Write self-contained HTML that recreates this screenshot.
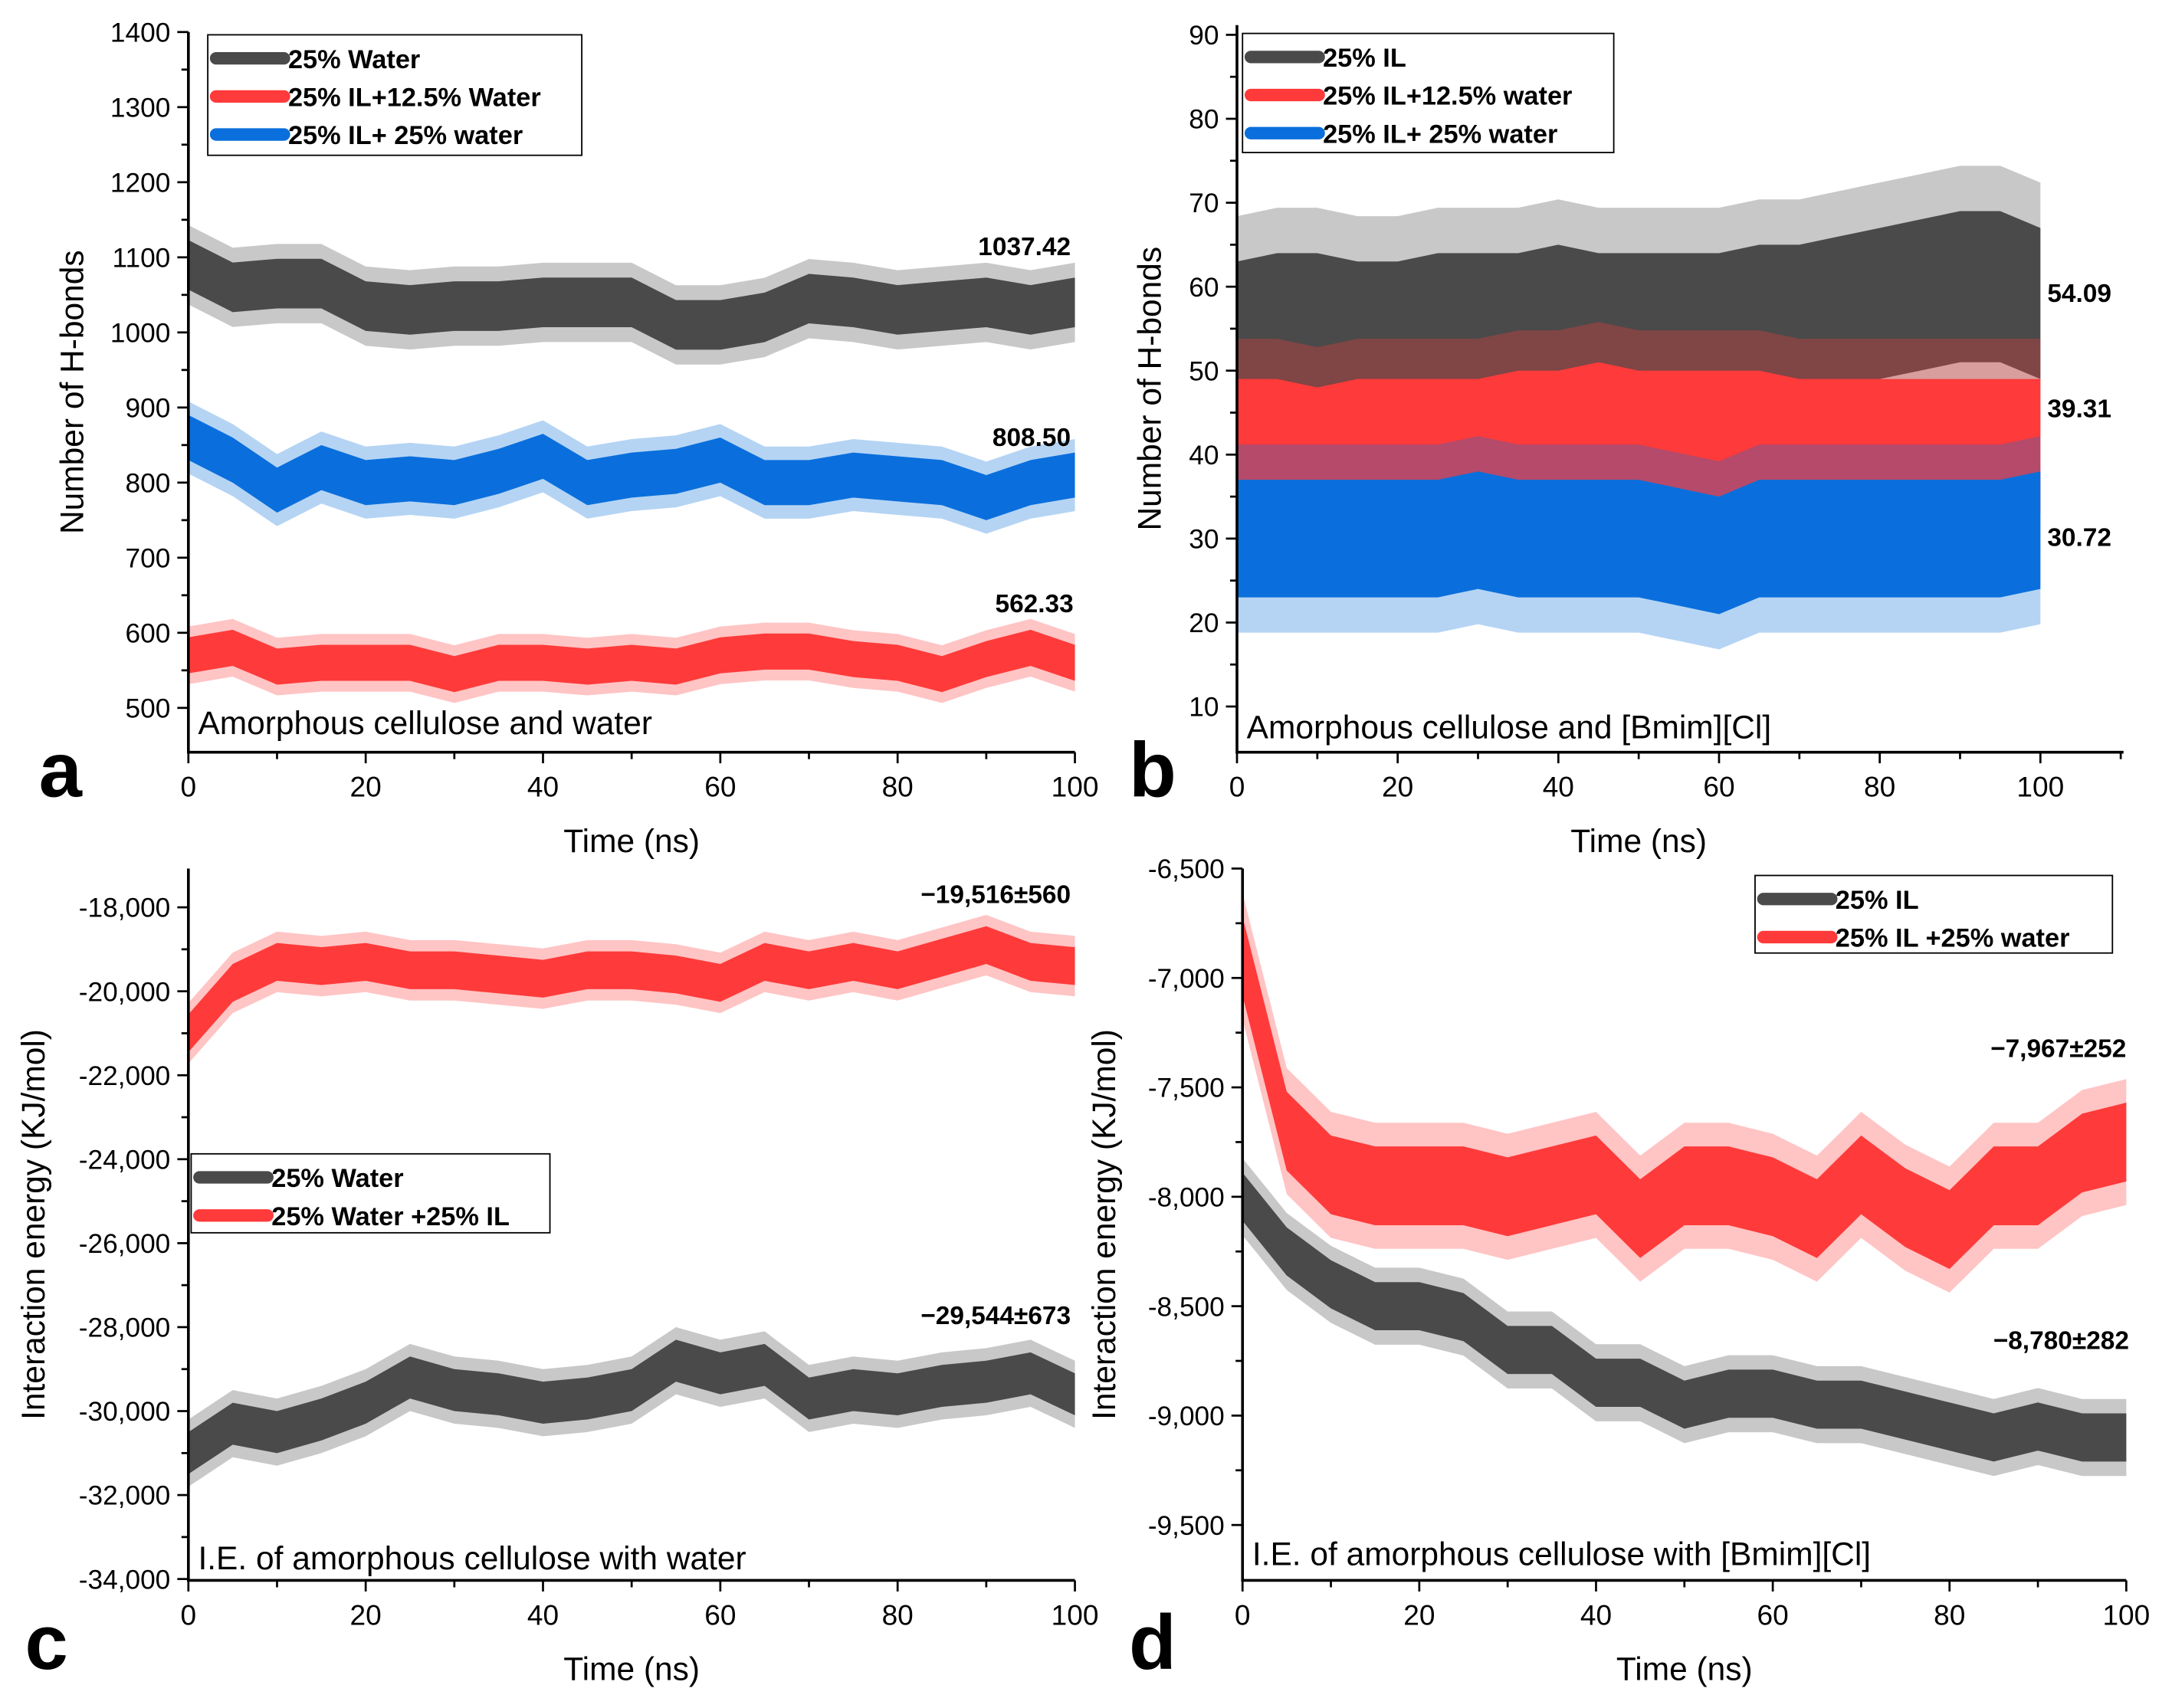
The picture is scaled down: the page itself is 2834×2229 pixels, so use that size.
<!DOCTYPE html>
<html><head><meta charset="utf-8"><style>html,body{margin:0;padding:0;background:#fff}svg{display:block}</style></head>
<body>
<svg id="fig" xmlns="http://www.w3.org/2000/svg" width="2834" height="2229" viewBox="0 0 1568 1233" font-family="Liberation Sans, Arial, sans-serif"></svg>
<script>
const timeNs=[0,5,10,15,20,25,30,35,40,45,50,55,60,65,70,75,80,85,90,95,100];
// panel a
const aWaterMid=[1090,1060,1065,1065,1035,1030,1035,1035,1040,1040,1040,1010,1010,1020,1045,1040,1030,1035,1040,1030,1040];
const aIL25Mid=[860,830,790,820,800,805,800,815,835,800,810,815,830,800,800,810,805,800,780,800,810];
const aIL125Mid=[570,580,555,560,560,560,545,560,560,555,560,555,570,575,575,565,560,545,565,580,560];
// panel b
const bILMid=[54,55,55,54,54,55,55,55,56,55,55,55,55,56,56,57,58,59,60,60,58];
const bIL125Mid=[41,41,40,41,41,41,41,42,42,43,42,42,42,42,41,41,41,41,41,41,41];
const bIL25Mid=[30,30,30,30,30,30,31,30,30,30,30,29,28,30,30,30,30,30,30,30,31];
// panel c
const cMixMid=[-21000,-19800,-19300,-19400,-19300,-19500,-19500,-19600,-19700,-19500,-19500,-19600,-19800,-19300,-19500,-19300,-19500,-19200,-18900,-19300,-19400];
const cWaterMid=[-31000,-30300,-30500,-30200,-29800,-29200,-29500,-29600,-29800,-29700,-29500,-28800,-29100,-28900,-29700,-29500,-29600,-29400,-29300,-29100,-29600];
// panel d
const dMixMid=[-6900,-7700,-7900,-7950,-7950,-7950,-8000,-7950,-7900,-8100,-7950,-7950,-8000,-8100,-7900,-8050,-8150,-7950,-7950,-7800,-7750];
const dILMid=[-8000,-8250,-8400,-8500,-8500,-8550,-8700,-8700,-8850,-8850,-8950,-8900,-8900,-8950,-8950,-9000,-9050,-9100,-9050,-9100,-9100];
const aSpread=[33,30,24], bSpread=[9,8,7], cSpread=[450,500], dSpread=[180,110];

const NS="http://www.w3.org/2000/svg", svg=document.getElementById('fig');
function el(tag,attrs,parent,text){const e=document.createElementNS(NS,tag);for(const k in attrs)e.setAttribute(k,attrs[k]);if(text!==undefined)e.textContent=text;(parent||svg).appendChild(e);return e;}
const GREY='#4a4a4a',RED='#ff3a3a',BLUE='#0a6fdc';

function panel(p){
  const g=el('g',{});
  
  
  const X=v=>p.x0+(v-0)/100*(p.x100-p.x0);
  const Y=v=>p.yA+(v-p.vA)/(p.vB-p.vA)*(p.yB-p.yA);
  p.series.forEach(s=>{
    [[1.6,0.3],[1,1]].forEach(([k,op])=>{
      let pts=[];
      for(let i=0;i<timeNs.length;i++)pts.push(X(timeNs[i])+','+Y(s.mid[i]+s.sp*k));
      for(let i=timeNs.length-1;i>=0;i--)pts.push(X(timeNs[i])+','+Y(s.mid[i]-s.sp*k));
      const poly=el('polygon',{points:pts.join(' '),fill:s.color,'fill-opacity':op,stroke:'none'},g);
      
      
    });
  });
  const ax=el('path',{d:`M${p.x0},${p.top} V${p.bottom} H${p.xEnd}`,stroke:'#000','stroke-width':2,fill:'none'},g);
  
  
  for(let v=0;v<=p.xMax;v+=10){const x=X(v);const major=v%20==0;
    el('line',{x1:x,x2:x,y1:p.bottom,y2:p.bottom+(major?8:5),stroke:'#000','stroke-width':1.5},g);
    if(major&&v<=100){const t=el('text',{x:x,y:p.bottom+32,'font-size':20.5,'text-anchor':'middle'},g,v);
      }}
  p.yticks.forEach(v=>{const y=Y(v);el('line',{x1:p.x0-8,x2:p.x0,y1:y,y2:y,stroke:'#000','stroke-width':1.5},g);
    const t=el('text',{x:p.x0-13,y:y+7,'font-size':19.5,'text-anchor':'end'},g,p.fmt(v));
    
    const ym=Y(v+p.ystep/2);if(ym>p.top&&ym<p.bottom)el('line',{x1:p.x0-5,x2:p.x0,y1:ym,y2:ym,stroke:'#000','stroke-width':1.5},g);});
  const xt=el('text',{x:(p.x0+p.x100)/2,y:p.bottom+72,'font-size':23.5,'text-anchor':'middle'},g,'Time (ns)');
  
  const yt=el('text',{x:p.ylx,y:(p.top+p.bottom)/2,'font-size':23.5,'text-anchor':'middle',transform:`rotate(-90 ${p.ylx} ${(p.top+p.bottom)/2})`},g,p.ylabel);
  
  const letter=el('text',{x:p.lx,y:p.ly,'font-size':56,'font-weight':'bold'},g,p.letter);
  
  const cap=el('text',{x:p.x0+7,y:p.capY,'font-size':23.5},g,p.caption);
  
  p.notes.forEach(n=>{const t=el('text',{x:n[0],y:n[1],'font-size':18.5,'font-weight':'bold','text-anchor':n[3]||'end'},g,n[2]);
    });
  const L=p.legend;const lg=el('g',{},g);
  
  el('rect',{x:L.x,y:L.y,width:L.w,height:L.h,fill:'#fff',stroke:'#000','stroke-width':1},lg);
  L.items.forEach((it,i)=>{const y=L.y+17+i*27.5;
    el('line',{x1:L.x+6,x2:L.x+55,y1:y,y2:y,stroke:it[1],'stroke-width':9,'stroke-linecap':'round'},lg);
    const t=el('text',{x:L.x+58,y:y+7,'font-size':19,'font-weight':'bold'},lg,it[0]);
    });
}

const intf=v=>v.toString();
const commaf=v=>(v<0?'-':'')+Math.abs(v).toLocaleString('en-US');

panel({name:'panel-a',x0:136,x100:776,xEnd:776,xMax:100,top:23,bottom:543,vA:1400,yA:23,vB:500,yB:511,
 yticks:[500,600,700,800,900,1000,1100,1200,1300,1400],ystep:100,fmt:intf,ylx:60,ylabel:'Number of H-bonds',
 letter:'a',lx:28,ly:575,caption:'Amorphous cellulose and water',capY:530,
 series:[{id:'series-25-water',mid:aWaterMid,sp:aSpread[0],color:GREY},{id:'series-25il-25water',mid:aIL25Mid,sp:aSpread[1],color:BLUE},{id:'series-25il-12-5water',mid:aIL125Mid,sp:aSpread[2],color:RED}],
 notes:[[773,184,'1037.42'],[773,322,'808.50'],[775,442,'562.33']],
 legend:{x:150,y:25,w:270,h:87,items:[['25% Water',GREY],['25% IL+12.5% Water',RED],['25% IL+ 25% water',BLUE]]}});

panel({name:'panel-b',x0:893,x100:1473,xEnd:1533,xMax:110,top:18,bottom:543,vA:90,yA:25,vB:10,yB:510,
 yticks:[10,20,30,40,50,60,70,80,90],ystep:10,fmt:intf,ylx:838,ylabel:'Number of H-bonds',
 letter:'b',lx:815,ly:575,caption:'Amorphous cellulose and [Bmim][Cl]',capY:533,
 series:[{id:'series-25-il',mid:bILMid,sp:bSpread[0],color:GREY},{id:'series-25il-12-5water',mid:bIL125Mid,sp:bSpread[1],color:RED},{id:'series-25il-25water',mid:bIL25Mid,sp:bSpread[2],color:BLUE}],
 notes:[[1478,218,'54.09','start'],[1478,301,'39.31','start'],[1478,394,'30.72','start']],
 legend:{x:897,y:24,w:268,h:86,items:[['25% IL',GREY],['25% IL+12.5% water',RED],['25% IL+ 25% water',BLUE]]}});

panel({name:'panel-c',x0:136,x100:776,xEnd:776,xMax:100,top:627,bottom:1141,vA:-18000,yA:655,vB:-34000,yB:1140,
 yticks:[-34000,-32000,-30000,-28000,-26000,-24000,-22000,-20000,-18000],ystep:2000,fmt:commaf,ylx:32,ylabel:'Interaction energy (KJ/mol)',
 letter:'c',lx:18,ly:1205,caption:'I.E. of amorphous cellulose with water',capY:1133,
 series:[{id:'series-25-water-plus-25-il',mid:cMixMid,sp:cSpread[0],color:RED},{id:'series-25-water',mid:cWaterMid,sp:cSpread[1],color:GREY}],
 notes:[[773,652,'\u221219,516\u00b1560'],[773,956,'\u221229,544\u00b1673']],
 legend:{x:138,y:833,w:259,h:57,items:[['25% Water',GREY],['25% Water +25% IL',RED]]}});

panel({name:'panel-d',x0:897,x100:1535,xEnd:1535,xMax:100,top:627,bottom:1141,vA:-6500,yA:627,vB:-9500,yB:1101,
 yticks:[-9500,-9000,-8500,-8000,-7500,-7000,-6500],ystep:500,fmt:commaf,ylx:805,ylabel:'Interaction energy (KJ/mol)',
 letter:'d',lx:815,ly:1205,caption:'I.E. of amorphous cellulose with [Bmim][Cl]',capY:1130,
 series:[{id:'series-25-il-plus-25-water',mid:dMixMid,sp:dSpread[0],color:RED},{id:'series-25-il',mid:dILMid,sp:dSpread[1],color:GREY}],
 notes:[[1535,763,'\u22127,967\u00b1252'],[1537,974,'\u22128,780\u00b1282']],
 legend:{x:1267,y:632,w:258,h:56,items:[['25% IL',GREY],['25% IL +25% water',RED]]}});
</script>
</body></html>
